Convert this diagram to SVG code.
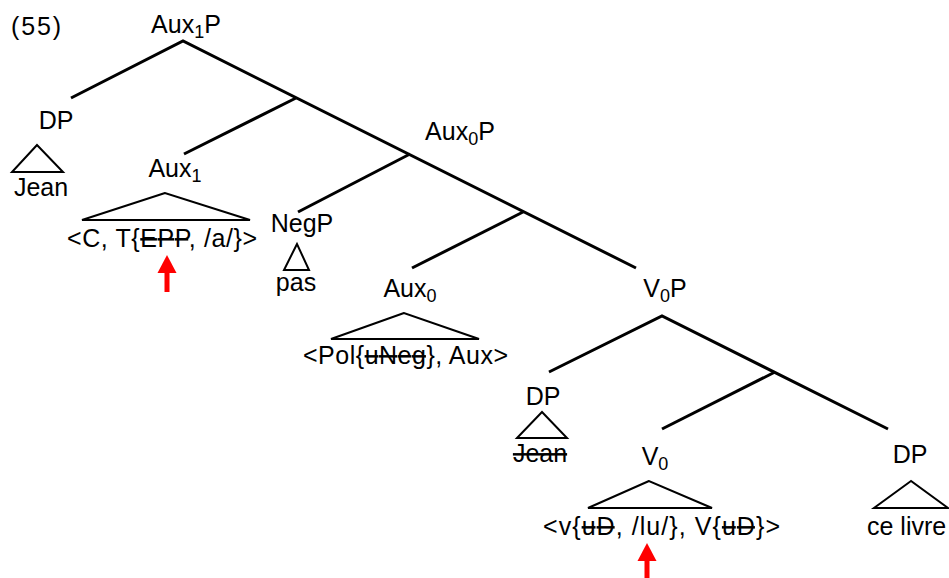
<svg xmlns="http://www.w3.org/2000/svg" width="949" height="578" viewBox="0 0 949 578">
<style>
text{font-family:"Liberation Sans",Arial,sans-serif;font-size:25px;fill:#000}
.m{text-anchor:middle}
.sub{font-size:18px}
.s{text-decoration:line-through}
.e{stroke:#000;stroke-width:3;fill:none;stroke-linecap:butt}
.t{stroke:#000;stroke-width:2;fill:none;stroke-linejoin:miter}
.arr{fill:#ff0000}
</style>
<rect width="949" height="578" fill="#fff"/>
<text x="11" y="35" textLength="50" lengthAdjust="spacing">(55)</text>
<g id="connectors">
<path class="e" d="M71,98 L183,41 L636,268"/>
<path class="e" d="M184,154 L296,98"/>
<path class="e" d="M298,212 L410,154"/>
<path class="e" d="M412,268 L523,212"/>
<path class="e" d="M549,372 L662,316 L888,429"/>
<path class="e" d="M662,429 L775,372"/>
</g>
<g id="aux1p"><text class="m" x="186" y="33">Aux<tspan class="sub" dy="5">1</tspan><tspan dy="-5">P</tspan></text></g>
<g id="dp1">
<text class="m" x="56" y="129">DP</text>
<polygon class="t" points="37,145 12,172 63,172"/>
<text class="m" x="41" y="196">Jean</text>
</g>
<g id="aux1">
<text class="m" x="175" y="177">Aux<tspan class="sub" dy="5">1</tspan></text>
<polygon class="t" points="165,193 82,220 250,220"/>
<text x="67" y="247" textLength="190" lengthAdjust="spacing">&lt;C, T{<tspan class="s">EPP</tspan>, /a/}&gt;</text>
</g>
<g id="arrow1">
<rect class="arr" x="164.5" y="268" width="5" height="24"/>
<polygon class="arr" points="167,255 157.5,273 176.5,273"/>
</g>
<g id="negp">
<text class="m" x="302" y="232">NegP</text>
<polygon class="t" points="297,244 284,270 309,270"/>
<text class="m" x="296" y="291">pas</text>
</g>
<g id="aux0p"><text class="m" x="460" y="140">Aux<tspan class="sub" dy="5">0</tspan><tspan dy="-5">P</tspan></text></g>
<g id="aux0">
<text class="m" x="410" y="297">Aux<tspan class="sub" dy="5">0</tspan></text>
<polygon class="t" points="404,313 331,339 479,339"/>
<text x="303" y="364" textLength="205" lengthAdjust="spacing">&lt;Pol{<tspan class="s">uNeg</tspan>}, Aux&gt;</text>
</g>
<g id="v0p"><text class="m" x="665" y="297">V<tspan class="sub" dy="5">0</tspan><tspan dy="-5">P</tspan></text></g>
<g id="dp2">
<text class="m" x="543" y="405">DP</text>
<polygon class="t" points="542,412 517,438 567,438"/>
<text class="m s" x="540" y="462">Jean</text>
</g>
<g id="v0">
<text class="m" x="655" y="465">V<tspan class="sub" dy="5">0</tspan></text>
<polygon class="t" points="649,481 588,508 712,508"/>
<text x="543" y="535" textLength="237" lengthAdjust="spacing">&lt;v{<tspan class="s">uD</tspan>, /lu/}, V{<tspan class="s">uD</tspan>}&gt;</text>
</g>
<g id="arrow2">
<rect class="arr" x="644.5" y="556" width="5" height="22"/>
<polygon class="arr" points="647,543 637.5,561 656.5,561"/>
</g>
<g id="dp3">
<text class="m" x="910" y="463">DP</text>
<polygon class="t" points="911,481 874,508 948,508"/>
<text x="867" y="535">ce livre</text>
</g>
</svg>
